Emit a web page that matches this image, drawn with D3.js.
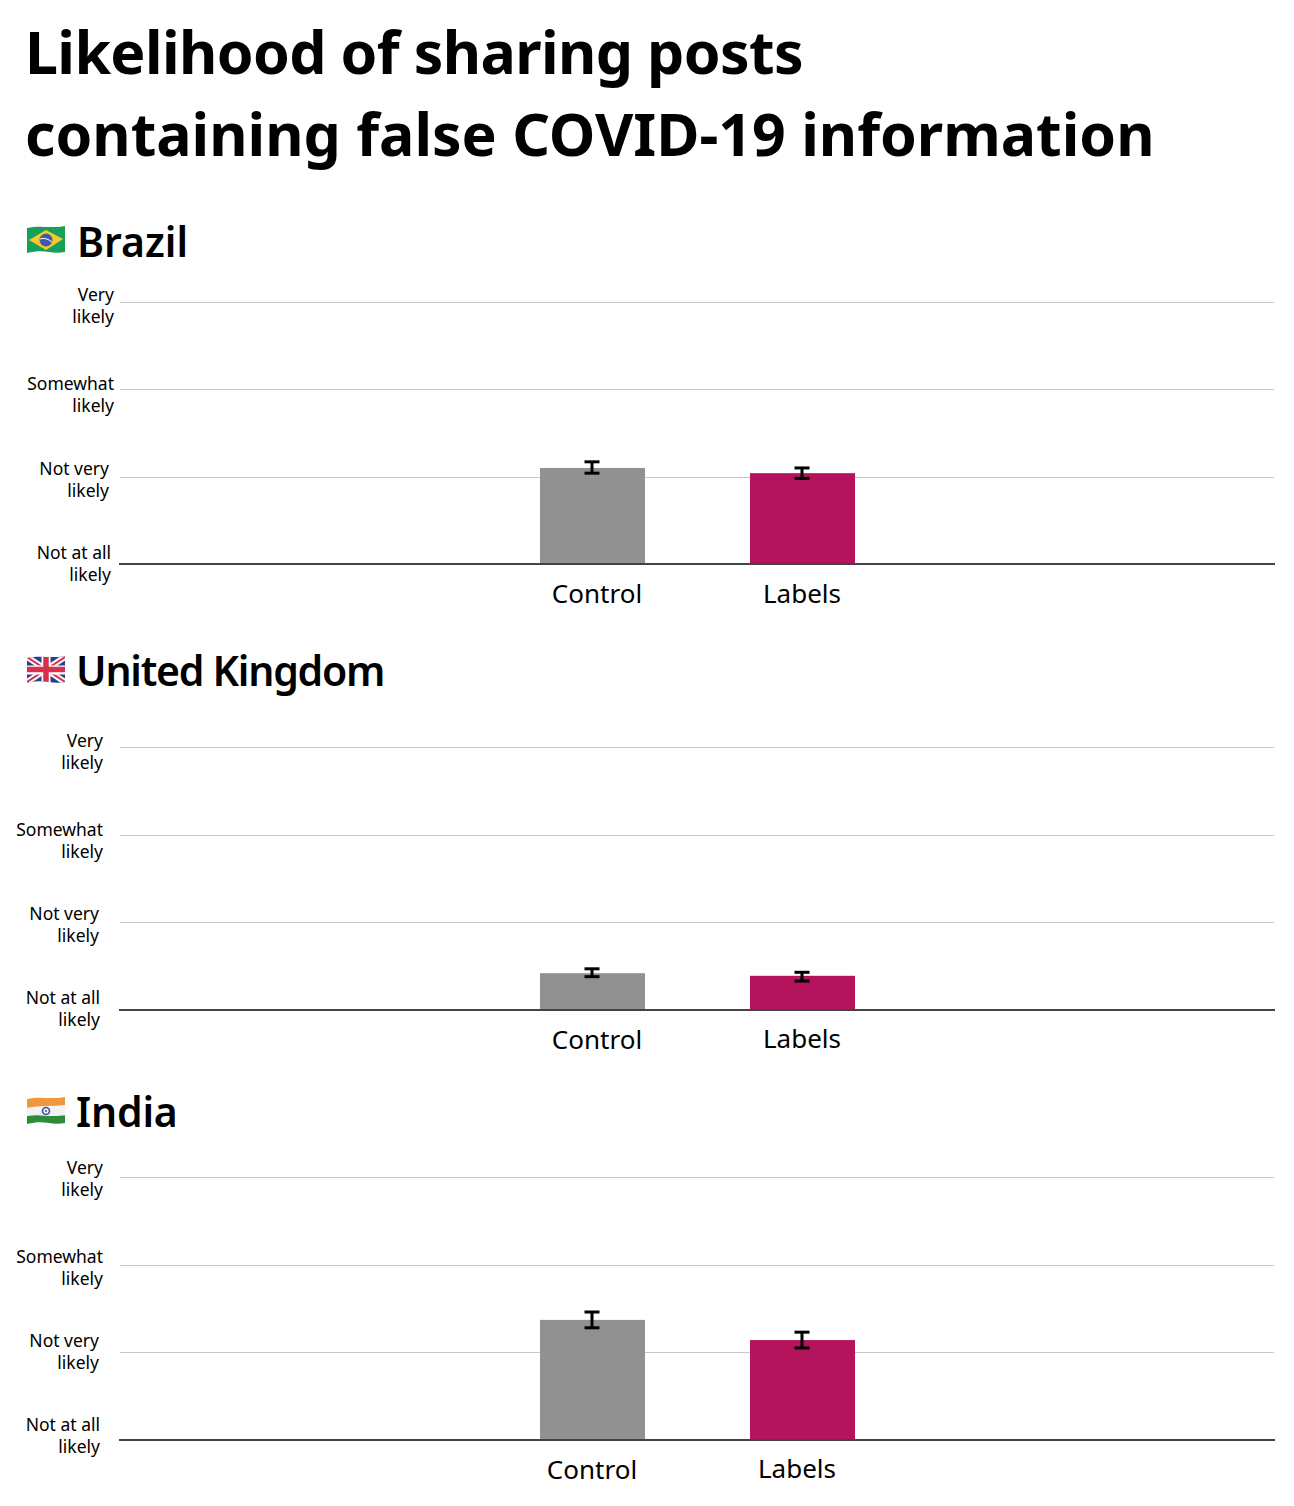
<!DOCTYPE html>
<html><head><meta charset="utf-8">
<script src="https://d3js.org/d3.v7.min.js"></script>
<style>
html,body{margin:0;padding:0;background:#fff}
text{font-family:"Noto Sans",sans-serif;fill:#000}
</style></head><body><svg id="c" width="1294" height="1506"></svg>
<script>
const titleLines=["Likelihood of sharing posts","containing false COVID-19 information"];
const countries=["Brazil","United Kingdom","India"];
const categories=["Control","Labels"];
const levels=[1,2,3,4];
const levelLabels=[["Not at all","likely"],["Not very","likely"],["Somewhat","likely"],["Very","likely"]];
const controlValues=[2.10,1.42,2.37];
const labelsValues=[2.04,1.39,2.14];
const controlLow=[2.04,1.38,2.28];
const controlHigh=[2.17,1.47,2.46];
const labelsLow=[1.98,1.33,2.05];
const labelsHigh=[2.10,1.43,2.23];
const colors={Control:"#919191",Labels:"#b3145c"};

const layout=[
 {head:257,headX:77,track:0,base:564,top:302,flagY:240,tickR:[111,109,114,114],tickY:[559,475,390,301],catX:[597,802],catY:[603,603],flag:"br"},
 {head:686,headX:76,track:-1.25,base:1010,top:747,flagY:670,tickR:[100,99,103,103],tickY:[1004,920,836,747],catX:[597,802],catY:[1049,1048],flag:"uk"},
 {head:1127,headX:76,track:-.2,base:1440,top:1177,flagY:1111,tickR:[100,99,103,103],tickY:[1431,1347,1263,1174],catX:[592,797],catY:[1479,1478],flag:"in"}
];
const svg=d3.select("#c");
svg.selectAll("text.t").data(titleLines).join("text").attr("class","t")
 .attr("x",25).attr("y",(d,i)=>74+i*82).attr("font-size",59).attr("font-weight",700)
 .attr("letter-spacing",(d,i)=>i?0:-0.62)
 .text(d=>d);

const x=d3.scaleBand().domain(categories).range([487.5,907.5]).paddingInner(.5).paddingOuter(.25);

function flag(g,kind){
  const id="clip-"+kind;
  const wave="M-19,-12 C-10,-14 -2,-13 5,-13 C10,-13 15,-13 19,-14 L19,12 C14,13 8,13 3,12 C-4,11 -11,11 -19,13 Z";
  g.append("clipPath").attr("id",id).append("path").attr("d",wave);
  const f=g.append("g").attr("clip-path",`url(#${id})`);
  const r=(x,y,w,h,c)=>f.append("rect").attr("x",x).attr("y",y).attr("width",w).attr("height",h).attr("fill",c);
  if(kind==="br"){
    r(-20,-16,40,32,"#18a05a");
    f.append("path").attr("d","M-17,0 L0,-10 L17,-1 L0,10 Z").attr("fill","#f6c92c");
    f.append("circle").attr("r",6.5).attr("fill","#3f5aa8");
    f.append("path").attr("d","M-6,-1 Q0,-3 6,2").attr("stroke","#fff").attr("fill","none").attr("stroke-width",1);
  } else if(kind==="uk"){
    r(-20,-16,40,32,"#27408f");
    const l=(a,b,c,d,col,w)=>f.append("line").attr("x1",a).attr("y1",b).attr("x2",c).attr("y2",d).attr("stroke",col).attr("stroke-width",w);
    l(-19,-13,19,12,"#fff",6);l(-19,12,19,-13,"#fff",6);
    l(-19,-13,19,12,"#d8304a",2);l(-19,12,19,-13,"#d8304a",2);
    l(0,-16,0,16,"#fff",9);l(-20,0,20,0,"#fff",9);
    l(0,-16,0,16,"#d8304a",5.5);l(-20,-.5,20,-.5,"#d8304a",5.5);
  } else {
    r(-20,-16,40,32,"#f2f2f2");
    f.append("path").attr("d","M-20,-16 H20 V-6 C12,-5 6,-5 0,-5 C-8,-5 -14,-4 -20,-3 Z").attr("fill","#f0963c");
    f.append("path").attr("d","M-20,5 C-12,4 -6,4 0,5 C8,5 14,5 20,4 V16 H-20 Z").attr("fill","#2e8b3a");
    f.append("circle").attr("r",3.5).attr("fill","none").attr("stroke","#3a4ea0").attr("stroke-width",1.6);
    f.append("circle").attr("r",1).attr("fill","#3a4ea0");
  }
}

countries.forEach((name,i)=>{
  const L=layout[i];
  const y=d3.scaleLinear().domain([1,4]).range([L.base,L.top]);
  const g=svg.append("g");
  flag(g.append("g").attr("transform",`translate(46,${L.flagY})`),L.flag);
  g.append("text").attr("x",L.headX).attr("y",L.head).attr("font-size",41).attr("font-weight",600)
   .attr("letter-spacing",L.track).text(name);

  g.selectAll("line.grid").data(levels.slice(1)).join("line").attr("class","grid")
   .attr("x1",120).attr("x2",1274).attr("y1",d=>Math.round(y(d))+.5).attr("y2",d=>Math.round(y(d))+.5)
   .attr("stroke","#c8c8c8").attr("stroke-width",1);

  const rows=categories.map((c,k)=>({c,
    v:(k?labelsValues:controlValues)[i],
    lo:(k?labelsLow:controlLow)[i],
    hi:(k?labelsHigh:controlHigh)[i],k}));
  g.selectAll("rect.bar").data(rows).join("rect").attr("class","bar")
   .attr("x",d=>x(d.c)).attr("width",x.bandwidth())
   .attr("y",d=>y(d.v)).attr("height",d=>y(1)-y(d.v)).attr("fill",d=>colors[d.c]);

  g.append("line").attr("x1",119).attr("x2",1275).attr("y1",y(1)).attr("y2",y(1))
   .attr("stroke","#444").attr("stroke-width",2);

  rows.forEach(d=>{
    const cx=x(d.c)+x.bandwidth()/2-.5;
    const e=g.append("g").attr("stroke","#000").attr("stroke-width",3);
    e.append("line").attr("x1",cx).attr("x2",cx).attr("y1",y(d.lo)).attr("y2",y(d.hi));
    [d.lo,d.hi].forEach(v=>e.append("line").attr("x1",cx-7.5).attr("x2",cx+7.5).attr("y1",y(v)).attr("y2",y(v)));
    g.append("text").attr("x",L.catX[d.k]).attr("y",L.catY[d.k]).attr("text-anchor","middle")
     .attr("font-size",26).text(d.c);
  });

  levels.forEach((lv,j)=>{
    const t=g.append("text").attr("text-anchor","end").attr("font-size",17.5);
    levelLabels[j].forEach((s,n)=>t.append("tspan").attr("x",L.tickR[j]).attr("y",L.tickY[j]+n*22.3).text(s));
  });
});
</script></body></html>
